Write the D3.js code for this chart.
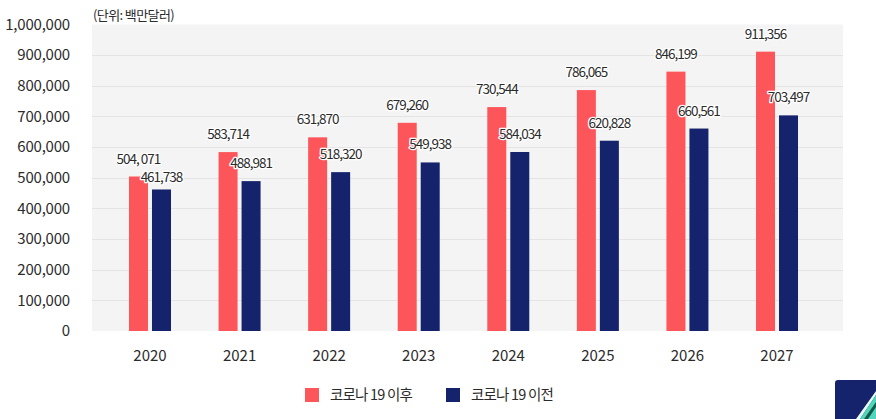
<!DOCTYPE html>
<html><head><meta charset="utf-8">
<script src="https://cdn.jsdelivr.net/npm/d3@7"></script>
<style>
body{margin:0;background:#fff;}
text{font-family:"Noto Sans CJK KR","Noto Sans",sans-serif;fill:#2b2b2b;}
</style></head>
<body><svg id="c" width="876" height="419"></svg>
<script>
const years = ["2020","2021","2022","2023","2024","2025","2026","2027"];
const afterCovid = [504071,583714,631870,679260,730544,786065,846199,911356];
const beforeCovid = [461738,488981,518320,549938,584034,620828,660561,703497];
const afterLabels = ["504, 071","583,714","631,870","679,260","730,544","786,065","846,199","911,356"];
const beforeLabels = ["461,738","488,981","518,320","549,938","584,034","620,828","660,561","703,497"];
const yTicks = [0,100000,200000,300000,400000,500000,600000,700000,800000,900000,1000000];
const seriesNames = ["코로나 19 이후","코로나 19 이전"];
const colors = ["#fd565a","#14236c"];
const unitText = "(단위: 백만달러)";

const svg = d3.select("#c");
const x = d3.scaleBand().domain(years).range([105.2,821.8]);
const xi = d3.scaleBand().domain([0,1]).range([-21,21]).paddingInner(4/23);
const y = d3.scaleLinear().domain([0,1000000]).range([331,24.5]);

// plot background
svg.append("rect").attr("x",92).attr("y",y(1000000)).attr("width",751).attr("height",y(0)-y(1000000)).attr("fill","#f4f4f4");
// gridlines
svg.append("g").selectAll("line").data(yTicks.slice(1,-1)).join("line")
  .attr("x1",92).attr("x2",843).attr("y1",d=>Math.round(y(d))+0.5).attr("y2",d=>Math.round(y(d))+0.5)
  .attr("stroke","#e4e4e4").attr("stroke-width",1);

// y axis
const yAxis = d3.axisLeft(y).tickValues(yTicks).tickSize(0).tickPadding(0).tickFormat(d3.format(","));
const ga = svg.append("g").attr("transform","translate(70,0)").call(yAxis);
ga.select(".domain").remove();
ga.selectAll("text").attr("font-size",15).attr("fill","#2b2b2b").style("font-family",'"Noto Sans CJK KR","Noto Sans",sans-serif').attr("letter-spacing","-0.2");

// x axis
const xAxis = d3.axisBottom(x).tickSize(0).tickPadding(0);
const gx = svg.append("g").attr("transform","translate(0,350)").call(xAxis);
gx.select(".domain").remove();
gx.selectAll("text").attr("font-size",15).attr("fill","#2b2b2b").attr("dy","0.71em").style("font-family",'"Noto Sans CJK KR","Noto Sans",sans-serif');

// bars
const series = [afterCovid, beforeCovid];
const labels = [afterLabels, beforeLabels];
series.forEach((vals,si)=>{
  svg.append("g").selectAll("rect").data(vals).join("rect")
    .attr("x",(d,i)=>x(years[i])+x.bandwidth()/2+xi(si))
    .attr("y",d=>y(d)).attr("width",xi.bandwidth()).attr("height",d=>y(0)-y(d))
    .attr("fill",colors[si]);
});
// label baselines: above bar; the second label is nudged toward its bar if it would collide with the first
const labelY = [
  afterCovid.map(d=>y(d)-13),
  beforeCovid.map((d,i)=>Math.min(y(d)-7, Math.max(y(d)-13, y(afterCovid[i])-13+19)))
];
series.forEach((vals,si)=>{
  svg.append("g").selectAll("text").data(vals).join("text")
    .attr("x",(d,i)=>x(years[i])+x.bandwidth()/2+xi(si)+xi.bandwidth()/2)
    .attr("y",(d,i)=>labelY[si][i])
    .attr("text-anchor","middle").attr("font-size",13.5).attr("letter-spacing","-1")
    .attr("stroke","#fff").attr("stroke-width",2.5).attr("paint-order","stroke").attr("stroke-linejoin","round")
    .text((d,i)=>labels[si][i]);
});

// unit
svg.append("text").attr("x",93).attr("y",20).attr("font-size",13).attr("letter-spacing","-0.6").text(unitText);

// legend
const legX = [305,446];
seriesNames.forEach((n,i)=>{
  svg.append("rect").attr("x",legX[i]).attr("y",388).attr("width",14).attr("height",14).attr("fill",colors[i]);
  svg.append("text").attr("x",legX[i]+25).attr("y",400).attr("font-size",14.5).attr("letter-spacing","-0.8").text(n);
});

// corner decoration
const deco = svg.append("g");
deco.append("path").attr("d","M835,383 Q835,380 838,380 L876,380 L876,419 L835,419 Z").attr("fill","#14236c");
deco.append("path").attr("d","M876,391 L876,395 L860,419 L856,419 Z").attr("fill","#e8fbf6");
deco.append("path").attr("d","M876,395 L876,419 L860,419 Z").attr("fill","#4fd6bd");
deco.append("path").attr("d","M876,402 L876,407 L868,419 L864,419 Z").attr("fill","#145a48");
</script></body></html>
